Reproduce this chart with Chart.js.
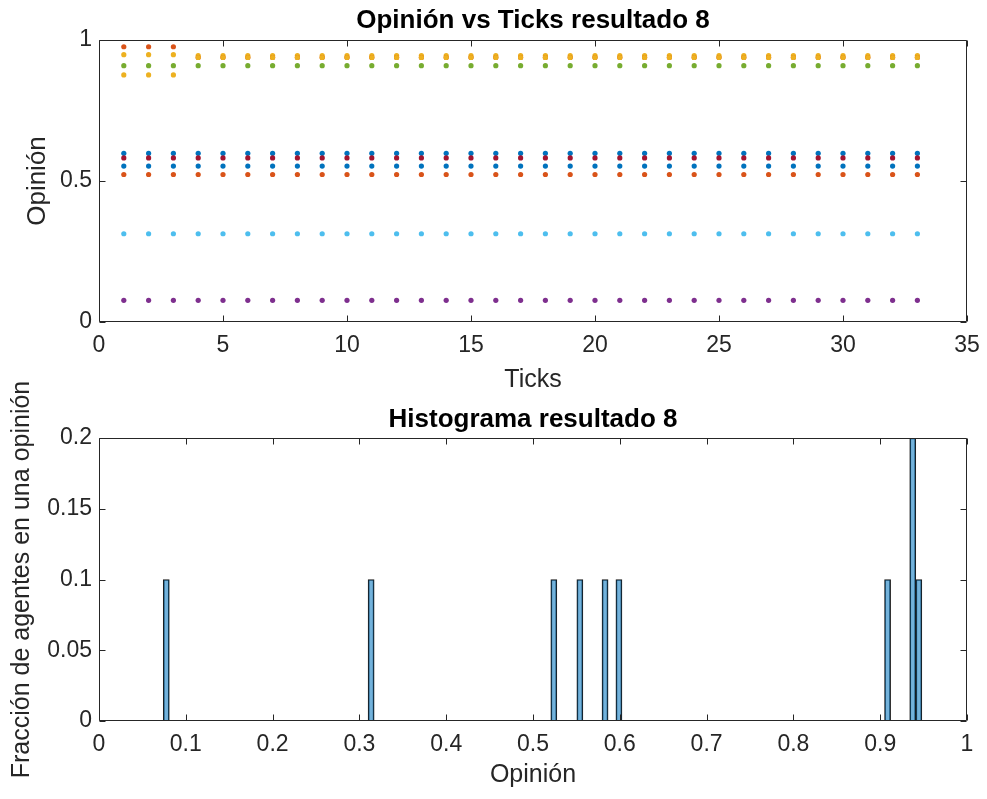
<!DOCTYPE html>
<html>
<head>
<meta charset="utf-8">
<script src="https://cdn.jsdelivr.net/npm/chart.js@4.4.1/dist/chart.umd.min.js"></script>
<style>
  html, body { margin: 0; padding: 0; background: #ffffff; }
  #wrap { position: relative; width: 987px; height: 799px; overflow: hidden; }
  #topBox { position: absolute; left: 0; top: 0; width: 987px; height: 400px; }
  #botBox { position: absolute; left: 0; top: 360px; width: 987px; height: 439px; }
</style>
</head>
<body>
<div id="wrap">
  <div id="topBox"><canvas id="top"></canvas></div>
  <div id="botBox"><canvas id="bot"></canvas></div>
</div>
<script>
// ---------- data ----------
const ticks = [1,2,3,4,5,6,7,8,9,10,11,12,13,14,15,16,17,18,19,20,21,22,23,24,25,26,27,28,29,30,31,32,33];
// MATLAB default colour order, one per agent
const agentColors = ['#0072BD','#D95319','#EDB120','#7E2F8E','#77AC30','#4DBEEE','#A2142F','#0072BD','#D95319','#EDB120'];
// opinion of each agent at ticks 1-3 and from tick 4 on
const agentStart = [0.598, 0.523, 0.948, 0.077, 0.909, 0.313, 0.582, 0.553, 0.976, 0.876];
const agentFinal = [0.598, 0.523, 0.945, 0.077, 0.909, 0.313, 0.582, 0.553, 0.938, 0.938];
const changeTick = 4;
// histogram of final opinions (bin centres and fractions)
const binCenters = [0.0775, 0.3135, 0.5240, 0.5540, 0.5830, 0.5990, 0.9085, 0.9375, 0.9445];
const binFractions = [0.1, 0.1, 0.1, 0.1, 0.1, 0.1, 0.1, 0.2, 0.1];
// tick labels
const topXTicks = [0,5,10,15,20,25,30,35];
const topYTicks = [0,0.5,1];
const botXTicks = [0,0.1,0.2,0.3,0.4,0.5,0.6,0.7,0.8,0.9,1];
const botYTicks = [0,0.05,0.1,0.15,0.2];

// ---------- styling ----------
const FONT = '"Liberation Sans", Arial, Helvetica, sans-serif';
const AX = '#262626';
Chart.defaults.font.family = FONT;
Chart.defaults.color = AX;
Chart.defaults.animation = false;

const boxTicks = {
  id: 'boxTicks',
  afterDraw(chart) {
    const {ctx, chartArea: a, scales} = chart;
    const L = 6;
    ctx.save();
    ctx.strokeStyle = AX;
    ctx.lineWidth = 1;
    const l = Math.round(a.left) + 0.5, r = Math.round(a.right) - 0.5;
    const t = Math.round(a.top) + 0.5, b = Math.round(a.bottom) - 0.5;
    ctx.beginPath();
    ctx.rect(l, t, r - l, b - t);
    scales.x.ticks.forEach(tk => {
      const p = Math.round(scales.x.getPixelForValue(tk.value)) + 0.5;
      ctx.moveTo(p, b); ctx.lineTo(p, b - L);
      ctx.moveTo(p, t); ctx.lineTo(p, t + L);
    });
    scales.y.ticks.forEach(tk => {
      const p = Math.round(scales.y.getPixelForValue(tk.value)) + 0.5;
      ctx.moveTo(l, p); ctx.lineTo(l + L, p);
      ctx.moveTo(r, p); ctx.lineTo(r - L, p);
    });
    ctx.stroke();
    ctx.restore();
  }
};

function fixedTicks(list) {
  return function(scale) { scale.ticks = list.map(v => ({value: v})); };
}
const plainLabel = v => String(Math.round(v * 1000) / 1000);

// ---------- top chart ----------
const scatterSets = agentColors.map((c, i) => ({
  label: 'agente ' + (i + 1),
  data: ticks.map(t => ({x: t, y: t < changeTick ? agentStart[i] : agentFinal[i]})),
  backgroundColor: c,
  borderColor: c,
  pointRadius: 2.6,
  pointBorderWidth: 0,
  showLine: false,
  order: agentColors.length - i
}));

new Chart(document.getElementById('top'), {
  type: 'scatter',
  data: { datasets: scatterSets },
  options: {
    responsive: true,
    maintainAspectRatio: false,
    layout: { padding: { left: 0, right: 20, top: 0, bottom: 0 } },
    plugins: {
      legend: { display: false },
      tooltip: { enabled: false },
      title: {
        display: true, fullSize: false,
        text: 'Opinión vs Ticks resultado 8',
        color: '#000000',
        font: { size: 26, weight: 'bold', lineHeight: 1.2 },
        padding: { top: 5, bottom: 3.8 }
      }
    },
    scales: {
      x: {
        type: 'linear', min: 0, max: 35,
        afterBuildTicks: fixedTicks(topXTicks),
        afterFit(s) { s.height = 78; s.paddingRight = 0; s.paddingLeft = 0; },
        grid: { display: false, drawTicks: false },
        border: { display: false },
        ticks: { font: { size: 23 }, padding: 10, maxRotation: 0, autoSkip: false, callback: plainLabel },
        title: { display: true, text: 'Ticks', font: { size: 25, lineHeight: 1.2 }, padding: { top: 0, bottom: 5 } }
      },
      y: {
        type: 'linear', min: 0, max: 1,
        afterBuildTicks: fixedTicks(topYTicks),
        afterFit(s) { s.width = 99; s.paddingTop = 0; s.paddingBottom = 0; },
        grid: { display: false, drawTicks: false },
        border: { display: false },
        ticks: { font: { size: 23 }, padding: 7, autoSkip: false, callback: plainLabel },
        title: { display: true, text: 'Opinión', font: { size: 26, lineHeight: 1.2 }, padding: { top: 22, bottom: 0 } }
      }
    }
  },
  plugins: [boxTicks]
});

// ---------- bottom chart ----------
new Chart(document.getElementById('bot'), {
  type: 'bar',
  data: {
    datasets: [{
      label: 'Fracción',
      data: binCenters.map((c, i) => ({x: c, y: binFractions[i]})),
      backgroundColor: 'rgba(0,114,189,0.55)',
      borderColor: '#1a1a1a',
      borderWidth: 1,
      barPercentage: 1,
      categoryPercentage: 1
    }]
  },
  options: {
    responsive: true,
    maintainAspectRatio: false,
    layout: { padding: { left: 0, right: 20, top: 0, bottom: 0 } },
    plugins: {
      legend: { display: false },
      tooltip: { enabled: false },
      title: {
        display: true, fullSize: false,
        text: 'Histograma resultado 8',
        color: '#000000',
        font: { size: 26, weight: 'bold', lineHeight: 1.2 },
        padding: { top: 44, bottom: 2.8 }
      }
    },
    scales: {
      x: {
        type: 'linear', min: 0, max: 1, offset: false,
        afterBuildTicks: fixedTicks(botXTicks),
        afterFit(s) { s.height = 78; s.paddingRight = 0; s.paddingLeft = 0; },
        grid: { display: false, drawTicks: false, offset: false },
        border: { display: false },
        ticks: { font: { size: 23 }, padding: 10, maxRotation: 0, autoSkip: false, callback: plainLabel },
        title: { display: true, text: 'Opinión', font: { size: 25, lineHeight: 1.2 }, padding: { top: 0, bottom: 9 } }
      },
      y: {
        type: 'linear', min: 0, max: 0.2,
        afterBuildTicks: fixedTicks(botYTicks),
        afterFit(s) { s.width = 99; s.paddingTop = 0; s.paddingBottom = 0; },
        grid: { display: false, drawTicks: false },
        border: { display: false },
        ticks: { font: { size: 23 }, padding: 7, autoSkip: false, callback: plainLabel },
        title: { display: true, text: 'Fracción de agentes en una opinión', font: { size: 25, lineHeight: 1.2 }, padding: { top: 7, bottom: 0 } }
      }
    }
  },
  plugins: [boxTicks]
});
</script>
</body>
</html>
